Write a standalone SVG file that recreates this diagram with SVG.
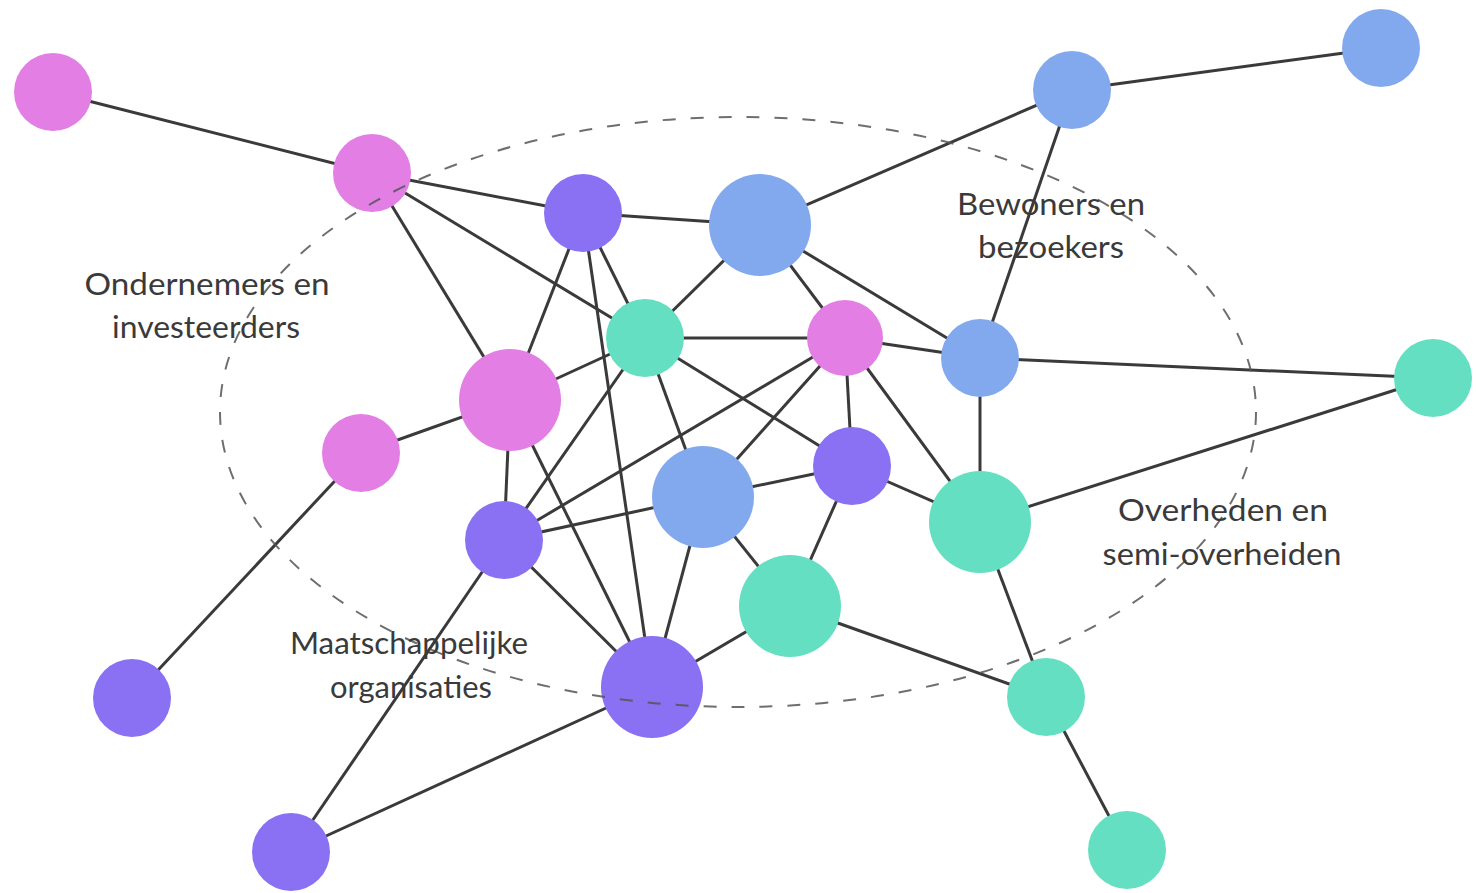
<svg xmlns="http://www.w3.org/2000/svg" width="1476" height="893" viewBox="0 0 1476 893">
<style>
.e{stroke:#3a3a3a;stroke-width:3;fill:none}
.pk{fill:#e27ee4}
.pu{fill:#8a70f2}
.bl{fill:#82a9ee}
.tl{fill:#64dfc2}
.lbl{font-family:Lato,"Open Sans",sans-serif;font-weight:400;font-size:31px;fill:#3a3a3a;text-anchor:middle}
.ring{fill:none;stroke:#555;stroke-width:2;stroke-dasharray:13 15;opacity:0.85}
</style>
<rect width="1476" height="893" fill="#fff"/>
<g id="connectors">
<line class="e" x1="53" y1="92" x2="372" y2="173"/>
<line class="e" x1="372" y1="173" x2="583" y2="213"/>
<line class="e" x1="372" y1="173" x2="645" y2="338"/>
<line class="e" x1="372" y1="173" x2="510" y2="400"/>
<line class="e" x1="583" y1="213" x2="760" y2="225"/>
<line class="e" x1="583" y1="213" x2="645" y2="338"/>
<line class="e" x1="583" y1="213" x2="510" y2="400"/>
<line class="e" x1="583" y1="213" x2="652" y2="687"/>
<line class="e" x1="760" y1="225" x2="1072" y2="90"/>
<line class="e" x1="760" y1="225" x2="645" y2="338"/>
<line class="e" x1="760" y1="225" x2="845" y2="338"/>
<line class="e" x1="760" y1="225" x2="980" y2="358"/>
<line class="e" x1="1072" y1="90" x2="1381" y2="48"/>
<line class="e" x1="1072" y1="90" x2="980" y2="358"/>
<line class="e" x1="645" y1="338" x2="845" y2="338"/>
<line class="e" x1="645" y1="338" x2="510" y2="400"/>
<line class="e" x1="645" y1="338" x2="703" y2="497"/>
<line class="e" x1="645" y1="338" x2="852" y2="466"/>
<line class="e" x1="645" y1="338" x2="504" y2="540"/>
<line class="e" x1="845" y1="338" x2="980" y2="358"/>
<line class="e" x1="845" y1="338" x2="703" y2="497"/>
<line class="e" x1="845" y1="338" x2="852" y2="466"/>
<line class="e" x1="845" y1="338" x2="980" y2="522"/>
<line class="e" x1="845" y1="338" x2="504" y2="540"/>
<line class="e" x1="980" y1="358" x2="1433" y2="378"/>
<line class="e" x1="980" y1="358" x2="980" y2="522"/>
<line class="e" x1="1433" y1="378" x2="980" y2="522"/>
<line class="e" x1="510" y1="400" x2="361" y2="453"/>
<line class="e" x1="510" y1="400" x2="504" y2="540"/>
<line class="e" x1="510" y1="400" x2="652" y2="687"/>
<line class="e" x1="361" y1="453" x2="132" y2="698"/>
<line class="e" x1="703" y1="497" x2="852" y2="466"/>
<line class="e" x1="703" y1="497" x2="504" y2="540"/>
<line class="e" x1="703" y1="497" x2="790" y2="606"/>
<line class="e" x1="703" y1="497" x2="652" y2="687"/>
<line class="e" x1="852" y1="466" x2="980" y2="522"/>
<line class="e" x1="852" y1="466" x2="790" y2="606"/>
<line class="e" x1="980" y1="522" x2="1046" y2="697"/>
<line class="e" x1="504" y1="540" x2="652" y2="687"/>
<line class="e" x1="504" y1="540" x2="291" y2="852"/>
<line class="e" x1="790" y1="606" x2="652" y2="687"/>
<line class="e" x1="790" y1="606" x2="1046" y2="697"/>
<line class="e" x1="652" y1="687" x2="291" y2="852"/>
<line class="e" x1="1046" y1="697" x2="1127" y2="850"/>
</g>
<g id="n1"><circle class="pk" cx="53" cy="92" r="39"/></g>
<g id="n2"><circle class="pk" cx="372" cy="173" r="39"/></g>
<g id="n3"><circle class="pu" cx="583" cy="213" r="39"/></g>
<g id="n4"><circle class="bl" cx="760" cy="225" r="51"/></g>
<g id="n5"><circle class="bl" cx="1072" cy="90" r="39"/></g>
<g id="n6"><circle class="bl" cx="1381" cy="48" r="39"/></g>
<g id="n7"><circle class="tl" cx="645" cy="338" r="39"/></g>
<g id="n8"><circle class="pk" cx="845" cy="338" r="38"/></g>
<g id="n9"><circle class="bl" cx="980" cy="358" r="39"/></g>
<g id="n10"><circle class="tl" cx="1433" cy="378" r="39"/></g>
<g id="n11"><circle class="pk" cx="510" cy="400" r="51"/></g>
<g id="n12"><circle class="pk" cx="361" cy="453" r="39"/></g>
<g id="n13"><circle class="bl" cx="703" cy="497" r="51"/></g>
<g id="n14"><circle class="pu" cx="852" cy="466" r="39"/></g>
<g id="n15"><circle class="tl" cx="980" cy="522" r="51"/></g>
<g id="n16"><circle class="pu" cx="504" cy="540" r="39"/></g>
<g id="n17"><circle class="tl" cx="790" cy="606" r="51"/></g>
<g id="n18"><circle class="pu" cx="652" cy="687" r="51"/></g>
<g id="n19"><circle class="tl" cx="1046" cy="697" r="39"/></g>
<g id="n20"><circle class="pu" cx="132" cy="698" r="39"/></g>
<g id="n21"><circle class="pu" cx="291" cy="852" r="39"/></g>
<g id="n22"><circle class="tl" cx="1127" cy="850" r="39"/></g>
<ellipse id="cluster" class="ring" cx="738" cy="412" rx="518" ry="295"/>
<g id="labels">
<text class="lbl" x="207" y="295" textLength="245" lengthAdjust="spacingAndGlyphs">Ondernemers en</text>
<text class="lbl" x="206" y="338" textLength="188" lengthAdjust="spacingAndGlyphs">investeerders</text>
<text class="lbl" x="1051" y="215" textLength="188" lengthAdjust="spacingAndGlyphs">Bewoners en</text>
<text class="lbl" x="1051" y="258" textLength="146" lengthAdjust="spacingAndGlyphs">bezoekers</text>
<text class="lbl" x="1223" y="521" textLength="210" lengthAdjust="spacingAndGlyphs">Overheden en</text>
<text class="lbl" x="1222" y="565" textLength="239" lengthAdjust="spacingAndGlyphs">semi-overheiden</text>
<text class="lbl" x="409" y="654" textLength="238" lengthAdjust="spacingAndGlyphs">Maatschappelijke</text>
<text class="lbl" x="411" y="698" textLength="162" lengthAdjust="spacingAndGlyphs">organisaties</text>
</g>
</svg>
